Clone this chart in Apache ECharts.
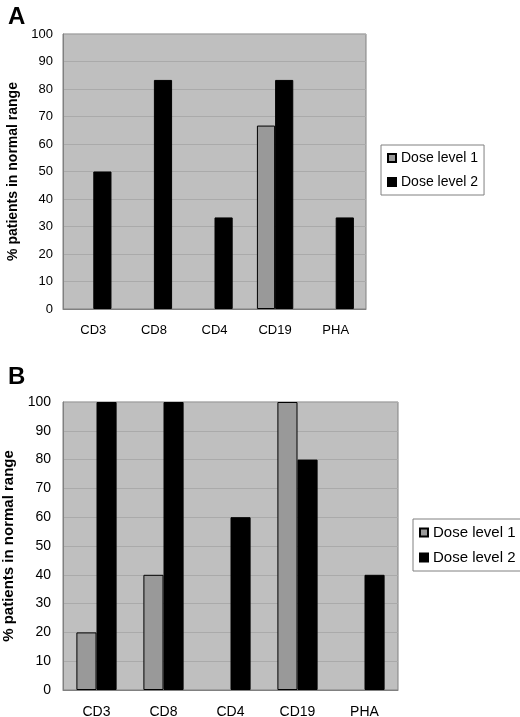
<!DOCTYPE html>
<html><head><meta charset="utf-8">
<script src="https://cdn.jsdelivr.net/npm/echarts@6/dist/echarts.min.js"></script>
<style>html,body{margin:0;padding:0;background:#fff}#c{width:520px;height:717px}</style>
</head><body><div id="c"></div>
<script>
var categories = ['CD3', 'CD8', 'CD4', 'CD19', 'PHA'];
var seriesNames = ['Dose level 1', 'Dose level 2'];
var panelA_dose1 = [0, 0, 0, 66.7, 0];
var panelA_dose2 = [50, 83.3, 33.3, 83.3, 33.3];
var panelB_dose1 = [20, 40, 0, 100, 0];
var panelB_dose2 = [100, 100, 60, 80, 40];
var yTicks = [0, 10, 20, 30, 40, 50, 60, 70, 80, 90, 100];
var yAxisName = '% patients in normal range';

var FONT = 'Liberation Sans, Arial, sans-serif';
var chart = echarts.init(document.getElementById('c'), null, {renderer: 'canvas'});

function xAx(gi, fs) {
  return {
    type: 'category', gridIndex: gi, data: categories,
    axisLine: {show: true, lineStyle: {color: '#808080', width: 1}},
    axisTick: {show: false},
    axisLabel: {color: '#000', fontFamily: FONT, fontSize: fs, margin: 15},
    splitLine: {show: false}
  };
}
function yAx(gi, fs, nfs, gap, margin) {
  return {
    type: 'value', gridIndex: gi, min: yTicks[0], max: yTicks[yTicks.length - 1], interval: 10,
    name: yAxisName, nameLocation: 'middle', nameGap: gap, nameRotate: 90,
    nameTextStyle: {color: '#000', fontFamily: FONT, fontSize: nfs, fontWeight: 'bold'},
    axisLine: {show: true, lineStyle: {color: '#808080', width: 1}},
    axisTick: {show: false},
    axisLabel: {color: '#000', fontFamily: FONT, fontSize: fs, margin: margin},
    splitLine: {show: true, lineStyle: {color: '#aaaaaa', width: 1}}
  };
}
function bars(name, values, gi, fill) {
  // zero-valued bars: no outline (nothing drawn in the reference)
  var data = values.map(function (v) {
    return v === 0 ? {value: v, itemStyle: {borderWidth: 0}} : v;
  });
  return {
    name: name, type: 'bar', xAxisIndex: gi, yAxisIndex: gi, data: data,
    barGap: '0%', barCategoryGap: '40%',
    itemStyle: {color: fill, borderColor: '#000', borderWidth: 1},
    emphasis: {disabled: true}, animation: false
  };
}
function legend(top, left, fs) {
  return {
    orient: 'vertical', top: top, left: left,
    data: seriesNames.map(function (n) { return {name: n}; }),
    icon: 'rect', itemWidth: 8, itemHeight: 8, itemGap: 10,
    padding: [6, 6, 6, 6],
    backgroundColor: '#fff', borderColor: '#808080', borderWidth: 1,
    textStyle: {color: '#000', fontFamily: FONT, fontSize: fs},
    selectedMode: false
  };
}

chart.setOption({
  animation: false,
  backgroundColor: '#fff',
  title: [
    {text: 'A', left: 3, top: 0, textStyle: {fontFamily: FONT, fontSize: 24, fontWeight: 'bold', color: '#000'}},
    {text: 'B', left: 3, top: 360, textStyle: {fontFamily: FONT, fontSize: 24, fontWeight: 'bold', color: '#000'}}
  ],
  grid: [
    {left: 63, top: 34, right: 154, height: 275, outerBoundsMode: 'none', containLabel: false, show: true, backgroundColor: '#bfbfbf', borderColor: '#808080', borderWidth: 1},
    {left: 63, top: 402, right: 122, height: 288, outerBoundsMode: 'none', containLabel: false, show: true, backgroundColor: '#bfbfbf', borderColor: '#808080', borderWidth: 1}
  ],
  xAxis: [xAx(0, 13), xAx(1, 14)],
  yAxis: [yAx(0, 13, 14, 42, 10), yAx(1, 14, 15, 46, 12)],
  legend: [legend(145, 381, 14), legend(519, 413, 15)],
  series: [
    bars(seriesNames[0], panelA_dose1, 0, '#999999'),
    bars(seriesNames[1], panelA_dose2, 0, '#000000'),
    bars(seriesNames[0], panelB_dose1, 1, '#999999'),
    bars(seriesNames[1], panelB_dose2, 1, '#000000')
  ]
});
</script></body></html>
